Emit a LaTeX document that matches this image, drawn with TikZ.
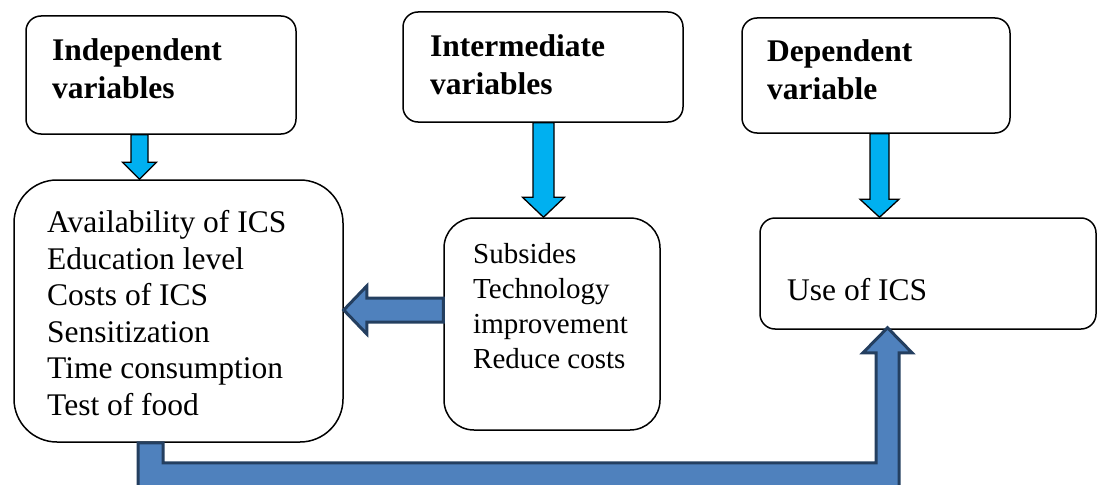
\documentclass[tikz,border=0pt]{standalone}
\usepackage{fontspec}
\setmainfont{Liberation Serif}
\usetikzlibrary{calc}

\definecolor{skyfill}{HTML}{00B0F0}
\definecolor{steelfill}{HTML}{4F81BD}
\definecolor{navyline}{HTML}{243F60}

\newcommand{\skyblock}[6]{%
  \draw[skyarrow] let \p1=(#1.south -| #3,0), \p2=(#2.north -| #3,0) in
    (\x1-#4pt,\y1) -- (\x1+#4pt,\y1) -- (\x1+#4pt,\y2+#6pt) -- (\x1+#5pt,\y2+#6pt)
    -- (\x1,\y2) -- (\x1-#5pt,\y2+#6pt) -- (\x1-#4pt,\y2+#6pt) -- cycle;}

\begin{document}
\begin{tikzpicture}[x=1pt,y=-1pt,
    box/.style={draw, line width=1.5pt, inner sep=0pt, fill=white},
    head/.style={anchor=base west, inner sep=0pt, align=left,
      font=\fontsize{31.5}{38}\selectfont\bfseries},
    body/.style={anchor=base west, inner sep=0pt, align=left,
      font=\fontsize{31.5}{36.5}\selectfont},
    skyarrow/.style={fill=skyfill, draw=black, line width=1.3pt, line join=miter},
    steelarrow/.style={fill=steelfill, draw=navyline, line width=3pt, line join=miter}]
  \useasboundingbox (0,0) rectangle (1099,484);
  \clip (0,0) rectangle (1099,484);

  \node[box, rounded corners=15pt, minimum width=270pt, minimum height=118pt] (indep) at (161,75) {};
  \node[box, rounded corners=15pt, minimum width=280pt, minimum height=110pt] (inter) at (543,67) {};
  \node[box, rounded corners=15pt, minimum width=268pt, minimum height=115pt] (dep) at (876,75.5) {};
  \node[box, rounded corners=43pt, minimum width=329pt, minimum height=262pt] (factors) at (178.5,311) {};
  \node[box, rounded corners=30pt, minimum width=216pt, minimum height=212pt] (mid) at (552,324) {};
  \node[box, rounded corners=15pt, minimum width=336pt, minimum height=111pt] (ucs) at (928,273.5) {};

  \node[head] (indeptext) at (52,99) {Independent\\variables};
  \node[head] (intertext) at (430,95) {Intermediate\\variables};
  \node[head] (deptext) at (767,100) {Dependent\\variable};
  \node[body] (factorstext) at (47,415) {Availability of ICS\\Education level\\Costs of ICS\\Sensitization\\Time consumption\\Test of food};
  \node[body, font=\fontsize{29}{35}\selectfont] (midtext) at (473,368) {Subsides\\Technology\\improvement\\Reduce costs};
  \node[body] (ucstext) at (787,300) {Use of ICS};

  \skyblock{indep}{factors}{139.5}{8.5}{17}{17}
  \skyblock{inter}{mid}{543.5}{10.5}{21}{20}
  \skyblock{dep}{ucs}{879.5}{9.5}{19.5}{18}

  \draw[steelarrow] let \p1=(mid.west |- 0,310), \p2=(factors.east |- 0,310) in
    (\x1,\y1+12pt) -- (\x2+23pt,\y1+12pt) -- (\x2+23pt,\y1+24pt) -- (\x2,\y1)
    -- (\x2+23pt,\y1-24pt) -- (\x2+23pt,\y1-12pt) -- (\x1,\y1-12pt) -- cycle;
  \draw[steelarrow] let \p1=(factors.south -| 150.5,0), \p2=(ucs.south -| 887.5,0) in
    (\x1-12.5pt,\y1) -- (\x1+12.5pt,\y1) -- (\x1+12.5pt,\y1-20pt) -- (\x2-11.5pt,\y1-20pt)
    -- (\x2-11.5pt,\y2-23pt) -- (\x2-24.5pt,\y2-23pt) -- (\x2,\y2+2pt) -- (\x2+24.5pt,\y2-23pt)
    -- (\x2+11.5pt,\y2-23pt) -- (\x2+11.5pt,\y1-45pt) -- (\x1-12.5pt,\y1-45pt) -- cycle;
\end{tikzpicture}
\end{document}
